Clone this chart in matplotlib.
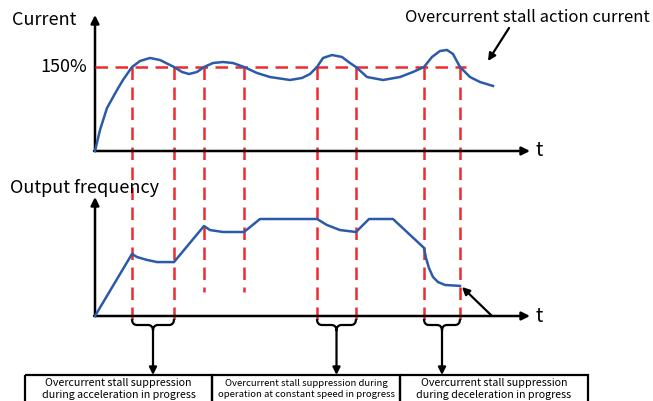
import matplotlib
matplotlib.use('Agg')
import matplotlib.pyplot as plt
from matplotlib.path import Path
from matplotlib.patches import PathPatch, Rectangle
import matplotlib.transforms as mtransforms

plt.rcParams['font.family'] = ['Noto Sans CJK JP', 'DejaVu Sans']

# --- data (time in arbitrary units, current in %, frequency in Hz) ---
cur_t = [0, 0.5, 1.2, 2.2, 2.8, 3.7, 4.5, 5.5, 6.5, 7.9, 8.7, 9.4, 10.2, 10.9,
         11.8, 12.8, 13.8, 14.9, 16.2, 17.5, 19.5, 20.7, 21.5, 22.2, 22.8, 23.7,
         24.7, 25.5, 26.1, 27.2, 28.8, 30.5, 31.8, 32.9, 33.7, 34.5, 35.2, 35.8,
         36.5, 37.5, 38.5, 39.8]
cur_val = [0, 37.5, 76.8, 108.9, 126.8, 150, 160.7, 166.1, 162.5, 150, 141.1, 137.5,
           141.1, 150, 157.1, 158.9, 157.1, 150, 139.3, 132.1, 126.8, 130.4, 137.5,
           150, 166.1, 171.4, 167.9, 157.1, 150, 132.1, 126.8, 132.1, 141.1, 150,
           167.9, 178.6, 180.4, 173.2, 150, 132.1, 123.2, 116.1]

freq_t = [0, 3.7, 4.2, 5.2, 6.2, 7.9, 10.9, 11.5, 12.8, 14.9, 16.5, 22.2, 23.2,
          24.5, 26.1, 27.4, 29.8, 32.9, 33.1, 33.4, 33.8, 34.3, 35.0, 36.5]
freq_val = [0, 32.0, 30.4, 28.9, 27.8, 27.8, 46.4, 44.3, 43.3, 43.3, 50, 50, 46.9,
            44.3, 43.3, 50, 50, 35.1, 29.9, 24.7, 20.1, 17.5, 16.0, 15.5]

stall_level = 150
cross_t = [3.7, 7.9, 10.9, 14.9, 22.2, 26.1, 32.9, 36.5]
short_marks = [10.9, 14.9]  # constant-speed recoveries, no box below
groups = [(3.7, 7.9), (22.2, 26.1), (32.9, 36.5)]
box_lines = [("Overcurrent stall suppression", "during acceleration in progress"),
             ("Overcurrent stall suppression during", "operation at constant speed in progress"),
             ("Overcurrent stall suppression", "during deceleration in progress")]

W, H = 653, 401
X0, XEND = 95, 530
T_MAX = (XEND - X0) / 10.0

BLUE = '#2b5ba8'
RED = '#ee2a2e'

fig = plt.figure(figsize=(W / 100, H / 100), dpi=100)
ov = fig.add_axes([0, 0, 1, 1])
ov.set_xlim(0, W)
ov.set_ylim(H, 0)
ov.axis('off')


def px_axes(top, bottom):
    return fig.add_axes([X0 / W, (H - bottom) / H, (XEND - X0) / W, (bottom - top) / H])


# current panel: x-axis at y=151, 150% at y=67
ax_i = px_axes(15, 151)
ax_i.set_xlim(0, T_MAX)
ax_i.set_ylim(0, stall_level * (151 - 15) / (151 - 67))
ax_i.axis('off')

# frequency panel: x-axis at y=316, 50 Hz at y=219
ax_f = px_axes(197, 316)
ax_f.set_xlim(0, T_MAX)
ax_f.set_ylim(0, 50 * (316 - 197) / (316 - 219))
ax_f.axis('off')

# red dashed guides
ax_i.plot([0, 37.1], [stall_level, stall_level], color=RED, lw=1.8,
          dashes=(5, 3), clip_on=False, zorder=2)
blend = mtransforms.blended_transform_factory(ax_i.transData, ov.transData)
for t in cross_t:
    y_end = 292 if t in short_marks else 320
    ov.plot([t, t], [67, y_end], color=RED, lw=1.8, dashes=(5, 3),
            transform=blend, zorder=2)

ax_i.plot(cur_t, cur_val, color=BLUE, lw=1.8, clip_on=False, zorder=3,
          solid_joinstyle='round')
ax_f.plot(freq_t, freq_val, color=BLUE, lw=1.8, clip_on=False, zorder=3,
          solid_joinstyle='round')

# axes with arrows
arr = dict(arrowstyle='-|>', lw=1.8, color='black', mutation_scale=12,
           shrinkA=0, shrinkB=0)
for y0, ytop in [(151, 15), (316, 197)]:
    ov.annotate('', xy=(X0, ytop), xytext=(X0, y0), arrowprops=arr)
    ov.annotate('', xy=(XEND, y0), xytext=(X0 - 1, y0), arrowprops=arr)
    ov.text(536, y0, 't', fontsize=14, ha='left', va='center')

ov.text(12, 20, 'Current', fontsize=13, ha='left', va='center')
ov.text(87, 67, '150%', fontsize=13, ha='right', va='center')
ov.text(10, 188, 'Output frequency', fontsize=13, ha='left', va='center')
ov.text(650, 17, 'Overcurrent stall action current', fontsize=12,
        ha='right', va='center')

thin = dict(arrowstyle='-|>', lw=1.6, color='black', mutation_scale=11,
            shrinkA=0, shrinkB=0)
ov.annotate('', xy=(488, 61), xytext=(509, 28), arrowprops=thin)
ov.annotate('', xy=(462, 287), xytext=(492, 316), arrowprops=thin)

# braces, arrows and boxes
box_edges = [25, 212, 400, 588]
for i, (ta, tb) in enumerate(groups):
    xa, xb = X0 + ta * 10, X0 + tb * 10
    xm = (xa + xb) / 2
    verts = [(xa, 319), (xa, 325), (xa + 5, 325),
             (xm - 5, 325), (xm, 325), (xm, 331),
             (xm, 325), (xm + 5, 325),
             (xb - 5, 325), (xb, 325), (xb, 319)]
    codes = [Path.MOVETO, Path.CURVE3, Path.CURVE3,
             Path.LINETO, Path.CURVE3, Path.CURVE3,
             Path.CURVE3, Path.CURVE3,
             Path.LINETO, Path.CURVE3, Path.CURVE3]
    ov.add_patch(PathPatch(Path(verts, codes), fill=False, lw=1.6,
                           edgecolor='black', zorder=4))
    ov.annotate('', xy=(xm, 375), xytext=(xm, 331), arrowprops=thin)

    left, right = box_edges[i], box_edges[i + 1]
    ov.add_patch(Rectangle((left, 375), right - left, 40, fill=False,
                           lw=1.6, edgecolor='black'))
    fs = 6.9 if i == 1 else 7.7
    cx = (left + right) / 2
    ov.text(cx, 383, box_lines[i][0], fontsize=fs, ha='center', va='center')
    ov.text(cx, 394.5, box_lines[i][1], fontsize=fs, ha='center', va='center')

fig.savefig('out.png', dpi=100)
